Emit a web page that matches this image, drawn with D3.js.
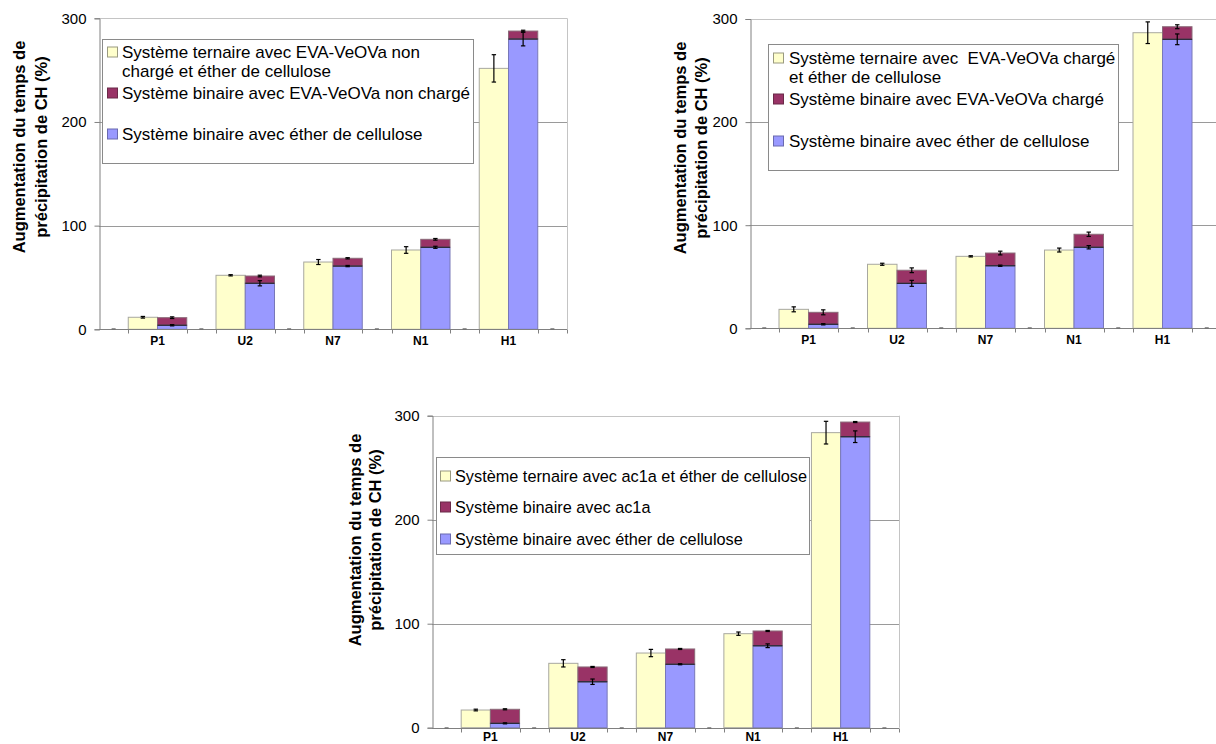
<!DOCTYPE html>
<html>
<head>
<meta charset="utf-8">
<script src="https://cdn.jsdelivr.net/npm/d3@7"></script>
<style>
  html, body { margin: 0; padding: 0; background: #fff; }
  svg { display: block; font-family: "Liberation Sans", Arial, sans-serif; }
</style>
</head>
<body>
<svg id="chart" width="1216" height="744"></svg>
<script>
// ---------- DATA ----------
const categories = ["P1", "U2", "N7", "N1", "H1"];
const yTicks = [0, 100, 200, 300];
const yTitleLines = ["Augmentation du temps de", "précipitation de CH (%)"];

// Chart 1 : EVA-VeOVa non chargé
const legend1 = [
  ["Système ternaire avec EVA-VeOVa non", "chargé et éther de cellulose"],
  ["Système binaire avec EVA-VeOVa non chargé"],
  ["Système binaire avec éther de cellulose"]
];
const ternaire1 = [11.6, 52.1, 64.9, 76.5, 251.7];
const ternaire1Err = [0.8, 0.6, 2.4, 3.2, 13.2];
const binEther1 = [3.9, 44.4, 61.0, 79.1, 280.0];
const binEther1Err = [0.6, 2.5, 0.6, 1.0, 6.6];
const binPolymer1 = [7.3, 7.0, 7.5, 7.7, 7.7];
const binPolymer1Err = [0.8, 0.8, 0.6, 0.8, 0.8];

// Chart 2 : EVA-VeOVa chargé
const legend2 = [
  ["Système ternaire avec  EVA-VeOVa chargé", "et éther de cellulose"],
  ["Système binaire avec EVA-VeOVa chargé"],
  ["Système binaire avec éther de cellulose"]
];
const ternaire2 = [18.4, 62.1, 69.8, 75.9, 286.7];
const ternaire2Err = [2.4, 1.0, 0.6, 1.9, 10.5];
const binEther2 = [3.9, 43.6, 60.7, 78.6, 280.3];
const binEther2Err = [0.6, 2.9, 0.6, 1.6, 5.2];
const binPolymer2 = [11.6, 12.7, 12.3, 12.6, 12.2];
const binPolymer2Err = [2.4, 2.3, 1.8, 2.1, 1.9];

// Chart 3 : ac1a
const legend3 = [
  ["Système ternaire avec ac1a et éther de cellulose"],
  ["Système binaire avec ac1a"],
  ["Système binaire avec éther de cellulose"]
];
const ternaire3 = [17.0, 61.9, 71.8, 90.4, 283.7];
const ternaire3Err = [0.8, 3.5, 3.5, 1.6, 10.9];
const binEther3 = [4.2, 44.2, 61.0, 78.8, 279.8];
const binEther3Err = [0.5, 2.6, 0.5, 1.8, 5.6];
const binPolymer3 = [13.5, 14.2, 14.7, 14.2, 14.1];
const binPolymer3Err = [0.5, 0.5, 0.5, 0.5, 0.5];

// ---------- STYLE ----------
const colYellow = "#FFFFCC";
const colBlue = "#9999FF";
const colMaroon = "#993366";

const svg = d3.select("#chart");

function drawChart(cfg) {
  const g = svg.append("g");
  const x = d3.scaleBand().domain(categories)
    .range([cfg.left, cfg.left + cfg.width])
    .paddingInner(1 / 3).paddingOuter(1 / 3);
  const x1 = d3.scaleBand().domain(["ternaire", "binaire"]).range([0, x.bandwidth()]);
  const y = d3.scaleLinear().domain([0, 300]).range([cfg.y0, cfg.y300]);
  const right = cfg.left + cfg.width;

  // gridlines
  g.append("g").selectAll("line").data(yTicks.filter(t => t > 0 && t < 300)).join("line")
    .attr("x1", cfg.left).attr("x2", right)
    .attr("y1", d => Math.round(y(d)) + 0.5).attr("y2", d => Math.round(y(d)) + 0.5)
    .attr("stroke", "#9a9a9a").attr("stroke-width", 1);
  // top border and right border
  g.append("line").attr("x1", cfg.left).attr("x2", right)
    .attr("y1", Math.round(y(300)) + 0.5).attr("y2", Math.round(y(300)) + 0.5)
    .attr("stroke", "#c4c4c4");
  g.append("line").attr("x1", Math.round(right) + 0.5).attr("x2", Math.round(right) + 0.5)
    .attr("y1", y(300)).attr("y2", y(0))
    .attr("stroke", "#c4c4c4");

  // stacked binaire data
  const rows = categories.map((c, i) => ({ cat: c, ether: cfg.ether[i], polymer: cfg.polymer[i] }));
  const stack = d3.stack().keys(["ether", "polymer"])(rows);

  // ternaire bars
  g.append("g").selectAll("rect").data(categories).join("rect")
    .attr("x", (c) => x(c) + x1("ternaire"))
    .attr("y", (c, i) => y(cfg.ternaire[i]))
    .attr("width", x1.bandwidth())
    .attr("height", (c, i) => y(0) - y(cfg.ternaire[i]))
    .attr("fill", colYellow).attr("stroke", "#a8a8a0").attr("stroke-width", 1);

  // stacked bars
  const fills = [colBlue, colMaroon];
  const strokes = ["#7878b8", "#8a6a78"];
  stack.forEach((layer, li) => {
    g.append("g").selectAll("rect").data(layer).join("rect")
      .attr("x", d => x(d.data.cat) + x1("binaire"))
      .attr("y", d => y(d[1]))
      .attr("width", x1.bandwidth())
      .attr("height", d => y(d[0]) - y(d[1]))
      .attr("fill", fills[li]).attr("stroke", strokes[li]).attr("stroke-width", 1);
  });
  // dark boundary between blue and maroon
  g.append("g").selectAll("line").data(stack[0]).join("line")
    .attr("x1", d => x(d.data.cat) + x1("binaire"))
    .attr("x2", d => x(d.data.cat) + x1("binaire") + x1.bandwidth())
    .attr("y1", d => y(d[1])).attr("y2", d => y(d[1]))
    .attr("stroke", "#2a2a3a").attr("stroke-width", 1.3);

  // error bars
  function errBars(vals, errs, key) {
    const eg = g.append("g");
    vals.forEach((v, i) => {
      const cx = x(categories[i]) + x1(key) + x1.bandwidth() / 2;
      const e = errs[i];
      const yt = y(v + e), yb = y(v - e);
      eg.append("line").attr("x1", cx).attr("x2", cx).attr("y1", yt).attr("y2", yb)
        .attr("stroke", "#000").attr("stroke-width", 1.2);
      [yt, yb].forEach(yy => eg.append("line")
        .attr("x1", cx - 2.2).attr("x2", cx + 2.2).attr("y1", yy).attr("y2", yy)
        .attr("stroke", "#000").attr("stroke-width", 1.2));
    });
  }
  errBars(cfg.ternaire, cfg.ternaireErr, "ternaire");
  errBars(stack[0].map(d => d[1]), cfg.etherErr, "binaire");
  errBars(stack[1].map(d => d[1]), cfg.polymerErr, "binaire");

  // y axis
  const yAxis = g.append("g").attr("transform", `translate(${Math.round(cfg.left) + 0.5},0)`)
    .call(d3.axisLeft(y).tickValues(yTicks).tickSize(5).tickPadding(8).tickFormat(d3.format("d")));
  yAxis.select(".domain").attr("stroke", "#808080");
  yAxis.selectAll(".tick line").attr("stroke", "#808080");
  yAxis.selectAll(".tick text").attr("font-size", 15).attr("fill", "#000")
    .attr("font-family", "Liberation Sans, Arial, sans-serif");

  // x axis baseline
  const yb = Math.round(y(0)) + 0.5;
  g.append("line").attr("x1", cfg.left).attr("x2", right).attr("y1", yb).attr("y2", yb)
    .attr("stroke", "#808080");
  const edges = [];
  categories.forEach(c => { edges.push(x(c)); edges.push(x(c) + x.bandwidth()); });
  edges.push(right);
  g.append("g").selectAll("line").data(edges).join("line")
    .attr("x1", d => Math.round(d) + 0.5).attr("x2", d => Math.round(d) + 0.5)
    .attr("y1", yb).attr("y2", yb + 4).attr("stroke", "#808080");
  // small dashes between groups
  const step = x.step();
  const mids = categories.map(c => x(c) - step / 6).concat([x(categories[categories.length - 1]) + x.bandwidth() + step / 6]);
  g.append("g").selectAll("line").data(mids).join("line")
    .attr("x1", d => d - 2).attr("x2", d => d + 2)
    .attr("y1", yb - 0.5).attr("y2", yb - 0.5).attr("stroke", "#707070").attr("stroke-width", 1.5);

  // category labels
  g.append("g").selectAll("text").data(categories).join("text")
    .attr("x", c => x(c) + x.bandwidth() / 2)
    .attr("y", y(0) + cfg.labelDy)
    .attr("text-anchor", "middle").attr("font-size", 12).attr("font-weight", "bold")
    .text(c => c);

  // y title
  yTitleLines.forEach((t, i) => {
    g.append("text")
      .attr("transform", `translate(${cfg.titleX[i]},${cfg.titleY}) rotate(-90)`)
      .attr("text-anchor", "middle").attr("dominant-baseline", "central")
      .attr("font-size", 16.5).attr("font-weight", "bold").text(t);
  });

  // legend
  const L = cfg.legend;
  const lg = g.append("g").attr("transform", `translate(${L.x},${L.y})`);
  lg.append("rect").attr("x", 0.5).attr("y", 0.5).attr("width", L.w).attr("height", L.h)
    .attr("fill", "#fff").attr("stroke", "#8a8a8a");
  const swatchCols = [colYellow, colMaroon, colBlue];
  const swatchStroke = ["#9a9a80", "#6a2a48", "#6a6ab0"];
  cfg.legendText.forEach((lines, i) => {
    const cy = L.rows[i];
    lg.append("rect").attr("x", L.sx + 0.5).attr("y", cy - 5).attr("width", 10).attr("height", 10)
      .attr("fill", swatchCols[i]).attr("stroke", swatchStroke[i]).attr("stroke-width", 1);
    lines.forEach((ln, j) => {
      lg.append("text").attr("x", L.tx).attr("y", cy + L.fs * 0.35 + j * 19)
        .attr("font-size", L.fs).attr("fill", "#000")
        .style("white-space", "pre").text(ln);
    });
  });
}

drawChart({
  left: 99, width: 468, y0: 329.3, y300: 18.3, labelDy: 15.5,
  ternaire: ternaire1, ternaireErr: ternaire1Err,
  ether: binEther1, etherErr: binEther1Err,
  polymer: binPolymer1, polymerErr: binPolymer1Err,
  titleX: [19, 41], titleY: 147,
  legendText: legend1,
  legend: { x: 102, y: 39, w: 371, h: 124, sx: 5, tx: 20, fs: 17, rows: [13, 54, 95] }
});
drawChart({
  left: 749.5, width: 472, y0: 328.3, y300: 19, labelDy: 15.5,
  ternaire: ternaire2, ternaireErr: ternaire2Err,
  ether: binEther2, etherErr: binEther2Err,
  polymer: binPolymer2, polymerErr: binPolymer2Err,
  titleX: [680, 701], titleY: 148,
  legendText: legend2,
  legend: { x: 768, y: 44, w: 350, h: 126, sx: 5, tx: 21, fs: 17, rows: [14, 55, 97] }
});
drawChart({
  left: 432, width: 467, y0: 727.7, y300: 415.7, labelDy: 13.5,
  ternaire: ternaire3, ternaireErr: ternaire3Err,
  ether: binEther3, etherErr: binEther3Err,
  polymer: binPolymer3, polymerErr: binPolymer3Err,
  titleX: [355, 375], titleY: 540,
  legendText: legend3,
  legend: { x: 436, y: 457, w: 373, h: 97, sx: 4, tx: 19, fs: 16.3, rows: [19, 50, 82] }
});
</script>
</body>
</html>
